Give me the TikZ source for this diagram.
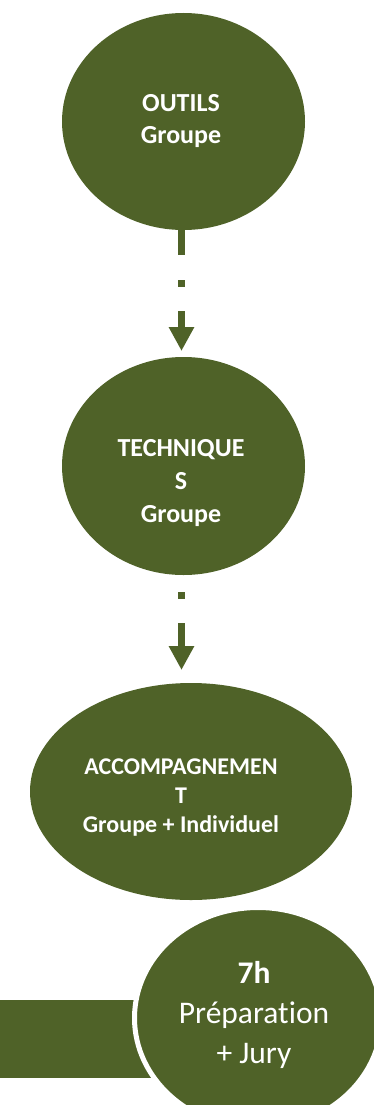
\documentclass[tikz,border=0pt]{standalone}
\usepackage{fontspec}
\setmainfont{Carlito}[Ligatures=NoCommon]
\usetikzlibrary{shapes.geometric,arrows.meta}
\definecolor{leafgreen}{RGB}{79,98,40}
\tikzset{
  blob/.style={ellipse, fill=leafgreen, inner sep=0pt, outer sep=0pt},
  blobtext/.style={text=white, align=center, inner sep=0pt},
  flow/.style={draw=leafgreen, line width=7.5pt, dash pattern=on 25pt off 25pt on 7pt off 24pt, -{Triangle[length=24pt,width=24pt]}}
}

\begin{document}
\begin{tikzpicture}[x=1pt,y=-1pt]
	%%%%% START %%%%%
	\useasboundingbox (0,0) rectangle (374,1105);
	
	\node[blob, minimum width=243pt, minimum height=217pt] (outils) at (183.5,121.5) {};
	\node[blob, minimum width=243pt, minimum height=218pt] (techniques) at (183.5,466) {};
	\node[blob, minimum width=322pt, minimum height=217pt] (accomp) at (191,791.5) {};
	
	\fill[leafgreen] (0,1000) rectangle (200,1078);
	\node[blob, draw=white, line width=5pt, minimum width=247pt, minimum height=221pt] (prep) at (258,1018) {};
	
	\coordinate (accomp-top) at (techniques.south |- accomp.north);
	\draw[flow, shorten >=6pt] ([xshift=-2pt]outils.south) -- ([xshift=-2pt]techniques.north);
	\draw[flow, dash phase=33pt, shorten >=13pt] ([xshift=-2pt]techniques.south) -- ([xshift=-2pt]accomp-top);
	
	\node[blobtext, font=\bfseries\fontsize{26}{32}\selectfont] (outils-txt) at (181,121) {OUTILS\\Groupe};
	\node[blobtext, font=\bfseries\fontsize{26}{33}\selectfont] (techniques-txt) at (181,483.5) {TECHNIQUE\\S\\Groupe};
	\node[blobtext, font=\bfseries\fontsize{24}{29}\selectfont] (accomp-txt) at (181,798) {ACCOMPAGNEMEN\\T\\Groupe + Individuel};
	\node[blobtext, font=\fontsize{31.5}{40}\selectfont] (prep-txt) at (254,1015) {\textbf{7h}\\Préparation\\+ Jury};
	
	%%%%% END %%%%%
\end{tikzpicture}
\end{document}
